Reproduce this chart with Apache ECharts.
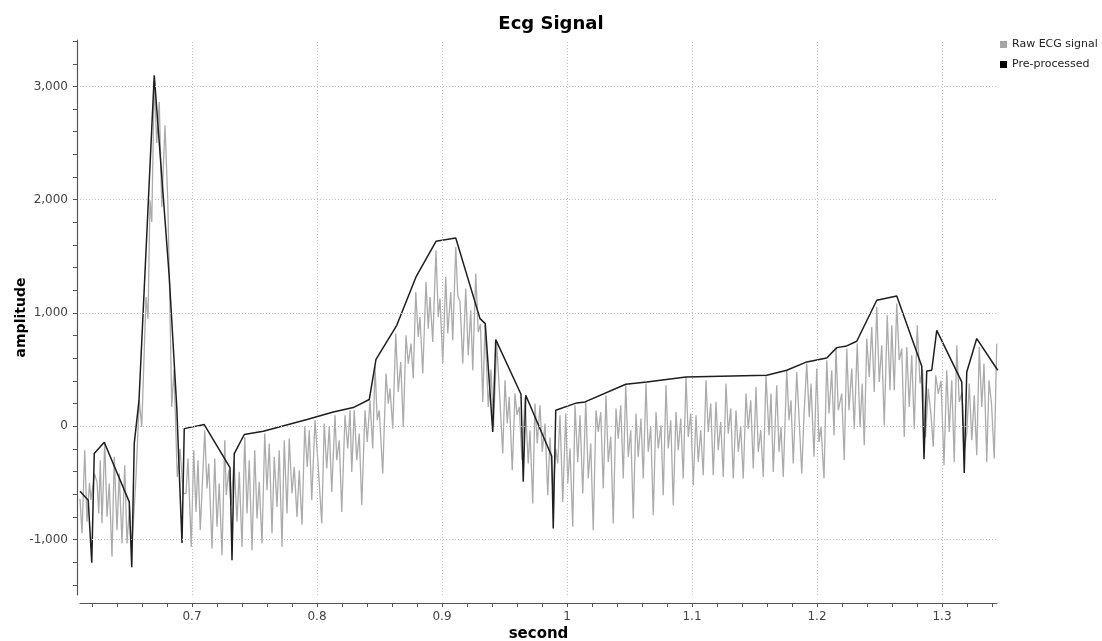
<!DOCTYPE html>
<html>
<head>
<meta charset="utf-8">
<script src="https://cdn.jsdelivr.net/npm/echarts@6/dist/echarts.min.js"></script>
<style>
html,body{margin:0;padding:0;background:#fff;}
#chart{width:1102px;height:641px;}
</style>
</head>
<body>
<div id="chart"></div>
<script>
// ---- Data ----
const rawT = [
0.6104,0.6120,0.6142,0.6160,0.6180,0.6192,0.6220,0.6240,0.6254,0.6266,0.6280,0.6302,0.6320,0.6338,0.6360,0.6378,0.6400,0.6418,0.6440,0.6462,0.6480,0.6500,0.6516,
0.6528,0.6552,0.6578,0.6598,0.6632,0.6648,0.6664,0.6678,0.6698,0.6718,0.6738,0.6758,0.6784,0.6806,0.6820,0.6838,0.6856,0.6882,0.6904,0.6930,
0.6952,0.6968,0.6994,0.7014,0.7032,0.7048,0.7066,0.7102,0.7120,0.7134,0.7160,0.7182,0.7200,0.7218,0.7240,0.7262,0.7274,0.7294,0.7312,0.7336,
0.7360,0.7378,0.7400,0.7422,0.7440,0.7458,0.7480,0.7502,0.7520,0.7538,0.7560,0.7582,0.7600,0.7618,0.7640,0.7658,0.7680,0.7698,0.7720,0.7738,
0.7760,0.7778,0.7800,0.7818,0.7840,0.7858,0.7880,0.7902,0.7922,0.7938,0.7958,0.7984,0.8010,0.8038,0.8058,0.8078,0.8098,0.8118,0.8144,0.8158,
0.8178,0.8198,0.8224,0.8246,0.8264,0.8278,0.8298,0.8318,0.8338,0.8358,0.8384,0.8402,0.8424,0.8446,0.8464,0.8482,0.8498,0.8526,0.8552,0.8570,
0.8584,0.8606,0.8630,0.8650,0.8670,0.8690,0.8712,0.8730,0.8752,0.8770,0.8790,0.8810,0.8824,0.8846,0.8872,0.8890,0.8904,0.8926,0.8952,0.8970,
0.8984,0.9006,0.9030,0.9046,0.9070,0.9086,0.9110,0.9126,0.9144,0.9166,0.9190,0.9210,0.9230,0.9246,0.9270,0.9290,0.9308,0.9326,0.9344,0.9370,
0.9392,0.9412,0.9438,0.9460,0.9486,0.9504,0.9522,0.9538,0.9562,0.9584,0.9600,0.9618,0.9640,0.9664,0.9690,0.9704,0.9726,0.9744,0.9762,0.9784,
0.9802,0.9824,0.9846,0.9864,0.9888,0.9910,0.9926,0.9944,0.9966,0.9990,1.0006,1.0024,1.0046,1.0064,1.0086,1.0104,1.0126,1.0150,1.0170,1.0190,
1.0210,1.0232,1.0250,1.0270,1.0290,1.0312,1.0330,1.0350,1.0370,1.0392,1.0410,1.0430,1.0450,1.0470,1.0490,1.0510,1.0530,1.0552,1.0570,1.0592,
1.0610,1.0632,1.0650,1.0670,1.0690,1.0712,1.0730,1.0752,1.0770,1.0792,1.0810,1.0830,1.0850,1.0872,1.0890,1.0910,1.0930,1.0952,1.0970,1.0990,
1.1010,1.1032,1.1050,1.1070,1.1090,1.1112,1.1130,1.1150,1.1170,1.1192,1.1210,1.1230,1.1250,1.1272,1.1290,1.1310,1.1330,1.1352,1.1370,1.1390,
1.1410,1.1432,1.1450,1.1470,1.1490,1.1512,1.1530,1.1550,1.1570,1.1592,1.1616,1.1632,1.1650,1.1678,1.1696,1.1712,1.1730,1.1758,1.1776,1.1792,
1.1810,1.1838,1.1856,1.1878,1.1896,1.1918,1.1938,1.1952,1.1976,1.1998,1.2016,1.2032,1.2056,1.2078,1.2096,1.2118,1.2136,1.2152,1.2170,1.2198,
1.2218,1.2238,1.2256,1.2278,1.2298,1.2322,1.2344,1.2362,1.2378,1.2398,1.2418,1.2438,1.2458,1.2478,1.2498,1.2518,1.2538,1.2562,1.2584,1.2598,
1.2618,1.2638,1.2658,1.2678,1.2698,1.2718,1.2738,1.2758,1.2778,1.2802,1.2824,1.2844,1.2868,1.2890,1.2912,1.2930,1.2950,1.2970,1.2992,1.3016,
1.3038,1.3058,1.3078,1.3098,1.3118,1.3138,1.3160,1.3180,1.3198,1.3218,1.3238,1.3258,1.3278,1.3298,1.3318,1.3336,1.3358,1.3376,1.3396,1.3418,
1.3438
];
const rawV = [
-640,-944,-212,-844,-500,-650,-420,-491,-768,-300,-856,-138,-800,-506,-1153,-270,-918,-418,-1035,-344,-1035,-700,-1100,
-900,-447,229,-6,1141,950,1995,1803,3050,2500,2862,1936,2657,1995,1250,170,500,-447,-200,-594,
-594,-285,-1065,-212,-756,-300,-918,-35,-550,-329,-1080,-285,-888,-506,-1138,-124,-609,-388,-700,-300,
-844,-403,-1065,-94,-771,-300,-1094,-212,-815,-491,-1035,-65,-565,-153,-947,-270,-712,-212,-1065,-124,
-771,-109,-594,-359,-800,-388,-870,0,-359,-35,-653,53,-359,-859,24,-373,-6,-580,97,-300,
-124,-756,97,-197,141,-403,141,-300,-65,-697,141,-138,229,-197,524,53,141,-418,465,200,
332,-21,818,303,568,-6,803,553,730,421,1185,788,965,465,1274,862,1141,744,1553,965,
1127,553,1318,818,1185,759,1583,1156,1100,553,1215,627,1024,494,1348,832,900,215,891,171,
500,0,730,300,-241,406,24,259,-388,288,100,171,-300,250,-329,-35,-682,200,-153,185,
-226,24,-609,-100,-600,-200,-329,97,-668,112,-506,-197,-888,185,-315,97,-594,215,-462,-153,
-918,141,-50,126,-550,274,-315,-94,-859,156,-109,185,-462,362,-270,-35,-815,112,-270,68,
-462,377,-226,-6,-785,126,-197,9,-609,362,-197,53,-697,126,-212,68,-462,435,-94,112,
-521,97,-315,-35,-432,406,-50,200,-432,215,-212,38,-447,377,-65,156,-462,141,-226,-6,
-462,288,-21,229,-373,347,-226,-35,-447,450,-79,288,-403,362,-226,-6,-447,494,53,229,
-329,479,82,-418,100,553,82,377,-270,509,-138,-6,-462,583,112,494,-79,686,141,288,
-300,686,141,509,-21,730,-6,377,-168,774,435,877,303,1053,391,715,9,980,318,891,
318,1083,583,686,-94,700,171,627,-21,891,377,500,-100,332,100,-182,450,288,400,-344,
494,-50,406,-315,715,215,300,-200,-65,377,-124,274,-256,700,171,553,-315,406,200,-285,
730
];
const procT = [
0.6104,0.6170,0.6198,0.6218,0.6298,0.6498,0.6518,0.6538,0.6576,0.6698,0.6818,0.6878,0.6920,0.6938,0.7098,0.7304,0.7320,0.7338,0.7418,0.7570,
0.7920,0.8130,0.8290,0.8418,0.8472,0.8638,0.8792,0.8952,0.9110,0.9304,0.9346,0.9406,0.9430,0.9632,0.9650,0.9670,0.9878,0.9890,0.9910,1.0078,
1.0144,1.0470,1.0638,1.0952,1.1598,1.1758,1.1918,1.2078,1.2158,1.2238,1.2318,1.2478,1.2638,1.2838,1.2856,1.2878,1.2918,1.2958,1.3158,1.3178,
1.3198,1.3278,1.3446
];
const procV = [
-574,-653,-1206,-240,-141,-668,-1245,-152,229,3098,1318,170,-1030,-21,15,-365,-1183,-241,-73,-44,
59,126,165,236,591,891,1318,1633,1662,950,906,-50,765,282,-491,274,-265,-903,141,206,
215,371,391,435,450,494,568,603,694,709,750,1112,1150,530,-291,488,494,847,391,-412,
479,774,494
];
const xLabelValues = [0.7,0.8,0.9,1.0,1.1,1.2,1.3];
const xMinorValues = [0.62,0.64,0.66,0.68,0.7,0.72,0.74,0.76,0.78,0.8,0.82,0.84,0.86,0.88,0.9,0.92,0.94,0.96,0.98,1.0,1.02,1.04,1.06,1.08,1.1,1.12,1.14,1.16,1.18,1.2,1.22,1.24,1.26,1.28,1.3,1.32,1.34];
const yLabelValues = [-1000,0,1000,2000,3000];
const yMinorValues = [-1400,-1200,-1000,-800,-600,-400,-200,0,200,400,600,800,1000,1200,1400,1600,1800,2000,2200,2400,2600,2800,3000,3200,3400];

const rawData = rawT.map((t,i)=>[t,rawV[i]]);
const procData = procT.map((t,i)=>[t,procV[i]]);

const FONT = 'DejaVu Sans';
const gridLine = {type:[1,2], color:'#bdbdbd', width:1};

const chart = echarts.init(document.getElementById('chart'), null, {renderer:'canvas'});
chart.setOption({
  animation:false,
  backgroundColor:'#ffffff',
  title:{
    text:'Ecg Signal', left:'center', top:10,
    textStyle:{fontFamily:FONT, fontSize:18, fontWeight:'bold', color:'#000'}
  },
  legend:{
    orient:'vertical', left:995, top:34,
    itemWidth:7, itemHeight:7, itemGap:9, icon:'rect',
    textStyle:{fontFamily:FONT, fontSize:11, color:'#222'},
    data:['Raw ECG signal','Pre-processed']
  },
  grid:{left:80, right:105, top:40, bottom:46, containLabel:false, outerBoundsMode:'none'},
  xAxis:{
    type:'value', min:0.6104, max:1.344, offset:8,
    name:'second', nameLocation:'middle', nameGap:24, nameMoveOverlap:false,
    nameTextStyle:{fontFamily:FONT, fontSize:15, fontWeight:'bold', color:'#000'},
    axisLine:{show:true, onZero:false, lineStyle:{color:'#555', width:1.2}},
    axisTick:{show:true, customValues:xMinorValues, length:4, lineStyle:{color:'#555'}},
    axisLabel:{customValues:xLabelValues, fontFamily:FONT, fontSize:12, color:'#444', margin:8,
      formatter:v=>String(Math.round(v*10)/10)},
    splitLine:{show:false}
  },
  yAxis:{
    type:'value', min:-1490, max:3410, offset:3,
    name:'amplitude', nameLocation:'middle', nameGap:49, nameRotate:90, nameMoveOverlap:false,
    nameTextStyle:{fontFamily:FONT, fontSize:14, fontWeight:'bold', color:'#000'},
    axisLine:{show:true, onZero:false, lineStyle:{color:'#555', width:1.2}},
    axisTick:{show:true, customValues:yMinorValues, length:4, lineStyle:{color:'#555'}},
    axisLabel:{customValues:yLabelValues, fontFamily:FONT, fontSize:12, color:'#444', margin:9,
      formatter:v=>v.toLocaleString('en-US')},
    splitLine:{show:false}
  },
  series:[
    {
      name:'grid', type:'line', data:[], z:0, silent:true,
      markLine:{
        silent:true, symbol:'none', label:{show:false}, lineStyle:gridLine, animation:false,
        data: yLabelValues.map(v=>({yAxis:v})).concat(xLabelValues.map(v=>({xAxis:v})))
      }
    },
    {
      name:'Raw ECG signal', type:'line', data:rawData, showSymbol:false, symbol:'none',
      color:'#a6a6a6', lineStyle:{color:'#ababab', width:1.3}, z:2
    },
    {
      name:'Pre-processed', type:'line', data:procData, showSymbol:false, symbol:'none',
      color:'#000000', lineStyle:{color:'#1e1e1e', width:1.5}, z:3
    }
  ]
});
</script>
</body>
</html>
